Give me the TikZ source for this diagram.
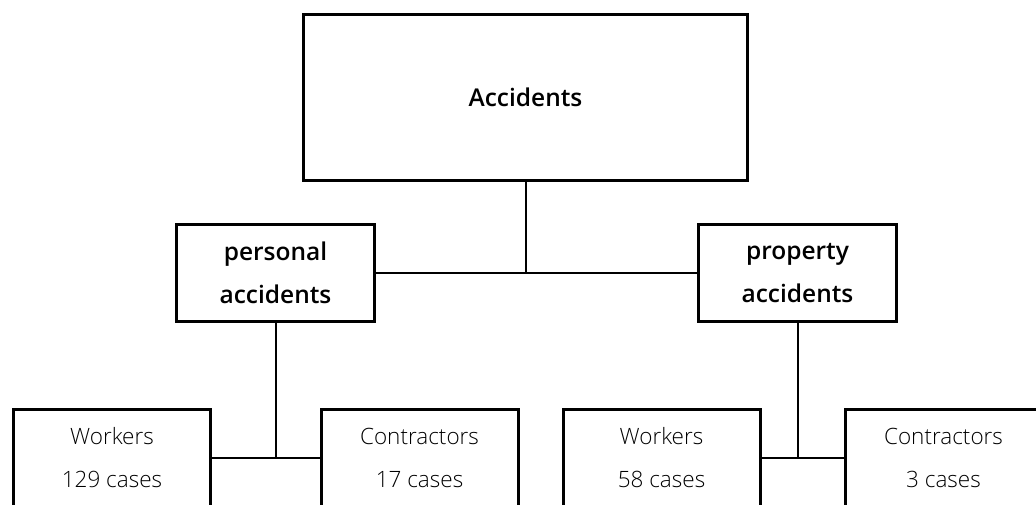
\documentclass[tikz,border=0pt]{standalone}
\usepackage{fontspec}
\setmainfont{Open Sans}
\newfontfamily\lightfont{Open Sans Light}
\newfontfamily\semifont{Open Sans Semibold}
\begin{document}
\begin{tikzpicture}[x=1pt,y=-1pt,
  box/.style={draw=black, line width=3pt, fill=white, outer sep=0pt, inner sep=0pt, align=center},
  midbox/.style={box, minimum width=198pt, minimum height=97pt, font=\semifont\fontsize{24.5}{43}\selectfont},
  lowbox/.style={box, minimum width=197pt, minimum height=97pt, font=\lightfont\fontsize{22.5}{43}\selectfont},
  conn/.style={draw=black, line width=2pt}]
\useasboundingbox (0,0) rectangle (1036,504);
\clip (0,0) rectangle (1036,504);
\node[box, minimum width=444pt, minimum height=166pt, font=\semifont\fontsize{24.5}{29}\selectfont] (top) at (525.5,97.5) {Accidents};
\node[midbox] (pers) at (275.5,273) {personal\\accidents};
\node[midbox] (prop) at (797.5,273) {property\\accidents};
\node[lowbox] (wl) at (112,458) {Workers\\129 cases};
\node[lowbox] (cl) at (419.5,458) {Contractors\\17 cases};
\node[lowbox] (wr) at (661.5,458) {Workers\\58 cases};
\node[lowbox] (cr) at (943.5,458) {Contractors\\3 cases};
\draw[conn] (top.south) -- (top.south |- pers.east);
\draw[conn] (pers.east) -- (prop.west);
\draw[conn] (pers.south) -- (pers.south |- wl.east);
\draw[conn] (wl.east) -- (cl.west);
\draw[conn] (prop.south) -- (prop.south |- wr.east);
\draw[conn] (wr.east) -- (cr.west);
\end{tikzpicture}
\end{document}
